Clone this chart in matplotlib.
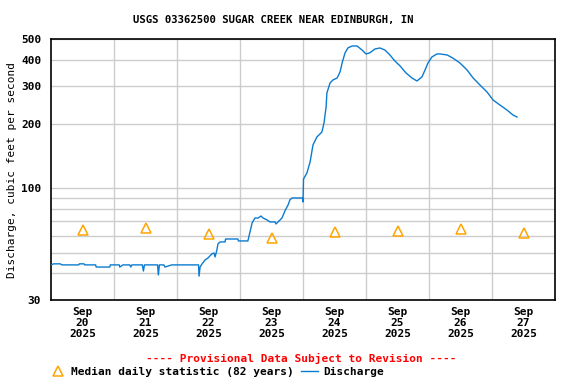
import matplotlib
matplotlib.use("Agg")
import matplotlib.pyplot as plt
from matplotlib.ticker import FixedLocator, NullFormatter
import pandas as pd

# discharge, hours after 2025-09-20 00:00 and cfs
hours = [0, 1.0, 3.5, 4.2, 10.6, 10.8, 12.6, 12.8, 17.0, 17.2, 22.4, 22.6,
         26.0, 26.2, 27.4, 30.0, 30.4, 30.8, 34.8, 35.2, 35.6, 40.6, 40.9,
         41.3, 43.0, 43.4, 46.0, 46.4, 56.2, 56.4, 56.8, 57.5, 58.7, 59.8,
         61.3, 62.1, 62.5, 63.2, 63.6, 64.4, 66.3, 66.5, 71.2, 71.4, 75.0,
         75.8, 76.6, 77.7, 78.9, 80.0, 80.8, 82.3, 83.4, 85.3, 85.7, 86.5,
         88.0, 89.1, 90.3, 91.0, 91.8, 95.8, 96.0, 96.2, 97.5, 98.7, 99.8,
         101.3, 103.2, 104.0, 104.8, 105.1, 106.3, 107.4, 109.0, 110.1,
         110.9, 112.0, 113.1, 114.7, 116.6, 118.5, 120.0, 121.5, 123.4,
         125.3, 127.2, 129.1, 131.0, 133.0, 135.2, 137.5, 139.4, 141.3,
         142.5, 143.6, 145.1, 147.0, 148.2, 150.9, 153.1, 155.8, 158.5,
         160.8, 163.4, 166.1, 168.4, 171.0, 173.7, 176.0, 177.5]
cfs = [43.8, 44.3, 44.3, 43.8, 43.8, 44.3, 44.3, 43.8, 43.8, 42.8, 42.8, 43.8,
       43.8, 42.8, 43.8, 43.8, 42.8, 43.8, 43.8, 41.0, 43.8, 43.8, 39.3,
       43.8, 43.8, 42.8, 43.8, 43.8, 43.8, 38.8, 42.8, 44.2, 46.2, 47.2,
       49.3, 49.8, 47.7, 51.4, 54.9, 56.1, 56.1, 57.9, 57.9, 56.7, 56.7,
       62.4, 68.8, 72.6, 72.6, 74.2, 72.6, 71.1, 69.6, 69.6, 68.1, 69.6,
       72.6, 78.3, 83.5, 88.2, 90.1, 90.1, 86.3, 110.6, 118, 132.8, 159.5,
       173.9, 183.4, 202.2, 240.3, 279.4, 311.2, 321.4, 328.5, 350.4,
       386, 430, 454, 463.7, 463.7, 444, 425.5, 431, 449,
       454, 444, 421, 394.5, 373.8, 347, 328.5, 318, 332,
       358, 386, 412, 425.5, 425.5, 421, 407, 386, 358,
       328.5, 304.6, 282.4, 259.1, 245.5, 232.6, 220.4, 215.7]

# median daily statistic, one per day (plotted at noon)
med_days = ["2025-09-20", "2025-09-21", "2025-09-22", "2025-09-23",
            "2025-09-24", "2025-09-25", "2025-09-26", "2025-09-27"]
med_cfs = [64.0, 65.5, 61.4, 58.3, 62.4, 63.3, 64.7, 62.0]

ytick_vals = [30, 100, 200, 300, 400, 500]
yminor_vals = [40, 50, 60, 70, 80, 90]

start = pd.Timestamp("2025-09-20")
t = start + pd.to_timedelta(hours, unit="h")
t_med = pd.to_datetime(med_days) + pd.Timedelta(hours=12)

plt.rcParams['font.family'] = ['DejaVu Sans Mono']
plt.rcParams['font.weight'] = 'bold'

fig = plt.figure(figsize=(5.76, 3.84), dpi=100)
ax = fig.add_axes([51/576, 1-300/384, 504/576, 261/384])

blue = "#0a7bd0"
orange = "#ffa500"

l_med, = ax.plot(t_med, med_cfs, linestyle="none", marker="^", markersize=7,
                 markerfacecolor="none", markeredgecolor=orange, mew=1.1,
                 label="Median daily statistic (82 years)", zorder=3)
l_q, = ax.plot(t, cfs, color=blue, lw=1.0, label="Discharge", zorder=4)

ax.set_yscale("log")
ax.set_ylim(30, 500)
ax.yaxis.set_major_locator(FixedLocator(ytick_vals))
ax.set_yticklabels([str(v) for v in ytick_vals])
ax.yaxis.set_minor_locator(FixedLocator(yminor_vals))
ax.yaxis.set_minor_formatter(NullFormatter())

ax.set_xlim(start, start + pd.Timedelta(days=8))
noon = [start + pd.Timedelta(hours=12 + 24*i) for i in range(8)]
ax.set_xticks(noon)
ax.set_xticklabels([d.strftime("%b\n%d\n%Y").replace("\n0", "\n") for d in noon],
                   linespacing=1.15)
midn = [start + pd.Timedelta(days=i) for i in range(1, 8)]
ax.xaxis.set_minor_locator(FixedLocator(matplotlib.dates.date2num(midn)))

ax.grid(True, which="both", axis="y", color="#cccccc", lw=1)
ax.grid(True, which="minor", axis="x", color="#cccccc", lw=1)
ax.set_axisbelow(True)
ax.tick_params(which="both", length=0, labelsize=8)
ax.tick_params(axis="x", pad=5)
ax.tick_params(axis="y", pad=7)
for s in ax.spines.values():
    s.set_linewidth(1.2)

ax.set_ylabel("Discharge, cubic feet per second", fontsize=8, labelpad=3)

fig.text(273/576, 1-20/384, "USGS 03362500 SUGAR CREEK NEAR EDINBURGH, IN",
         ha="center", va="center", fontsize=7.7)
fig.text(301/576, 1-358/384, "---- Provisional Data Subject to Revision ----",
         ha="center", va="center", fontsize=8, color="red")

fig.legend(handles=[l_med, l_q], loc="center left",
           bbox_to_anchor=(49/576, 1-372/384), ncol=2, frameon=False,
           fontsize=8, handlelength=1.6, handletextpad=0.4,
           columnspacing=0.6, borderaxespad=0, borderpad=0)

fig.savefig("out.png", dpi=100)
